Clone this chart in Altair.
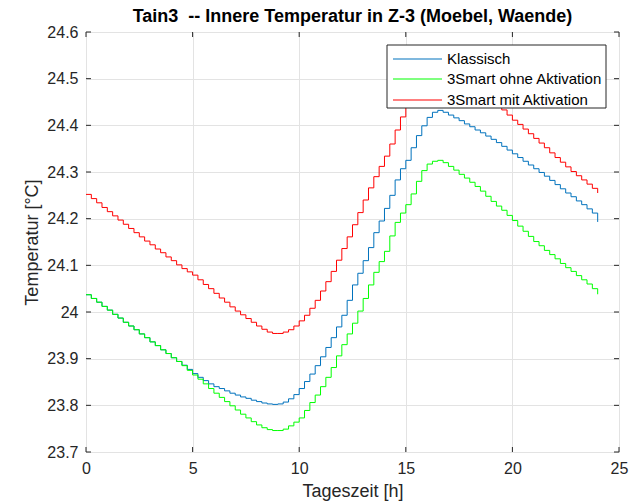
import altair as alt
import pandas as pd

FONT = "Liberation Sans"

series_names = ["Klassisch", "3Smart ohne Aktivation", "3Smart mit Aktivation"]
series_colors = ["#0072BD", "#00FF00", "#FF0000"]

x_ticks = [0, 5, 10, 15, 20, 25]
y_ticks = [23.7, 23.8, 23.9, 24.0, 24.1, 24.2, 24.3, 24.4, 24.5, 24.6]

# time of day in hours, 15-minute steps
hours = [i / 4 for i in range(97)]

klassisch = [
    24.037, 24.029, 24.021, 24.012,
    24.004, 23.995, 23.987, 23.978,
    23.970, 23.962, 23.953, 23.945,
    23.936, 23.928, 23.919, 23.911,
    23.902, 23.894, 23.886, 23.877,
    23.868, 23.860, 23.853, 23.846,
    23.840, 23.836, 23.831, 23.826,
    23.822, 23.818, 23.815, 23.811,
    23.808, 23.805, 23.803, 23.802,
    23.803, 23.807, 23.814, 23.823,
    23.836, 23.851, 23.867, 23.885,
    23.904, 23.924, 23.945, 23.968,
    23.993, 24.025, 24.058, 24.083,
    24.110, 24.138, 24.170, 24.195,
    24.222, 24.250, 24.283, 24.307,
    24.325, 24.352, 24.378, 24.399,
    24.417, 24.428, 24.432, 24.428,
    24.422, 24.416, 24.410, 24.403,
    24.397, 24.390, 24.384, 24.377,
    24.370, 24.363, 24.355, 24.347,
    24.339, 24.331, 24.323, 24.315,
    24.307, 24.299, 24.291, 24.282,
    24.273, 24.264, 24.255, 24.247,
    24.238, 24.230, 24.221, 24.212,
    24.193,
]

ohne_aktivation = [
    24.037, 24.029, 24.021, 24.012,
    24.004, 23.995, 23.987, 23.978,
    23.970, 23.962, 23.953, 23.945,
    23.936, 23.928, 23.919, 23.911,
    23.902, 23.894, 23.885, 23.875,
    23.865, 23.856, 23.846, 23.836,
    23.826, 23.817, 23.808, 23.799,
    23.790, 23.781, 23.773, 23.765,
    23.758, 23.752, 23.748, 23.746,
    23.746, 23.749, 23.756, 23.764,
    23.773, 23.789, 23.806, 23.822,
    23.840, 23.860, 23.881, 23.906,
    23.930, 23.953, 23.976, 24.002,
    24.029, 24.058, 24.085, 24.108,
    24.130, 24.163, 24.192, 24.212,
    24.230, 24.253, 24.280, 24.303,
    24.317, 24.323, 24.325, 24.320,
    24.312, 24.304, 24.295, 24.287,
    24.278, 24.269, 24.259, 24.248,
    24.237, 24.227, 24.218, 24.207,
    24.196, 24.184, 24.173, 24.162,
    24.151, 24.142, 24.132, 24.123,
    24.114, 24.104, 24.095, 24.087,
    24.078, 24.069, 24.060, 24.050,
    24.038,
]

mit_aktivation = [
    24.252, 24.243, 24.234, 24.224,
    24.215, 24.206, 24.197, 24.188,
    24.179, 24.170, 24.161, 24.152,
    24.144, 24.135, 24.127, 24.118,
    24.110, 24.101, 24.093, 24.086,
    24.079, 24.069, 24.059, 24.050,
    24.040, 24.030, 24.021, 24.011,
    24.002, 23.994, 23.986, 23.978,
    23.970, 23.963, 23.957, 23.954,
    23.954, 23.957, 23.962, 23.970,
    23.981, 23.993, 24.008, 24.025,
    24.045, 24.065, 24.087, 24.111,
    24.136, 24.161, 24.187, 24.213,
    24.240, 24.266, 24.290, 24.312,
    24.334, 24.360, 24.390, 24.418,
    24.440, 24.460, 24.478, 24.492,
    24.502, 24.508, 24.510, 24.508,
    24.504, 24.499, 24.493, 24.486,
    24.479, 24.472, 24.465, 24.458,
    24.450, 24.442, 24.433, 24.422,
    24.411, 24.402, 24.392, 24.382,
    24.372, 24.362, 24.352, 24.341,
    24.331, 24.321, 24.311, 24.301,
    24.292, 24.283, 24.274, 24.265,
    24.255,
]

frames = []
for name, vals in zip(series_names, [klassisch, ohne_aktivation, mit_aktivation]):
    assert len(vals) == len(hours)
    frames.append(pd.DataFrame({"t": hours, "v": vals, "series": name}))
df = pd.concat(frames, ignore_index=True)

W, H = 533, 420
INK = "#262626"

x_scale = alt.Scale(domain=[0, 25], nice=False, zero=False)
y_scale = alt.Scale(domain=[23.7, 24.6], nice=False, zero=False)

axis_common = dict(
    labelFont=FONT, labelFontSize=16, labelColor=INK, labelFlush=False,
    titleFont=FONT, titleFontSize=18, titleColor=INK, titleFontWeight="normal",
    grid=True, gridColor="#e3e3e3", gridWidth=1,
    ticks=False, tickSize=0, domain=False,
)
x_axis = alt.Axis(values=x_ticks, title="Tageszeit [h]", labelPadding=8, titlePadding=6, **axis_common)
y_axis = alt.Axis(values=y_ticks, format=".3~g", title="Temperatur [°C]", labelPadding=8,
                  titlePadding=5, **axis_common)

lines = alt.Chart(df).mark_line(interpolate="step-after", strokeWidth=1, clip=True).encode(
    x=alt.X("t:Q", scale=x_scale, axis=x_axis),
    y=alt.Y("v:Q", scale=y_scale, axis=y_axis),
    color=alt.Color("series:N", scale=alt.Scale(domain=series_names, range=series_colors), legend=None),
)

xt = pd.DataFrame({"tick": x_ticks})
yt = pd.DataFrame({"tick": y_ticks})

bottom_ticks = alt.Chart(xt).mark_rule(color=INK, strokeWidth=1).encode(
    x=alt.X("tick:Q", scale=x_scale, axis=x_axis), y=alt.value(H), y2=alt.value(H - 5))
top_ticks = alt.Chart(xt).mark_rule(color=INK, strokeWidth=1).encode(
    x=alt.X("tick:Q", scale=x_scale, axis=x_axis), y=alt.value(0), y2=alt.value(5))
left_ticks = alt.Chart(yt).mark_rule(color=INK, strokeWidth=1).encode(
    y=alt.Y("tick:Q", scale=y_scale, axis=y_axis), x=alt.value(0), x2=alt.value(5))
right_ticks = alt.Chart(yt).mark_rule(color=INK, strokeWidth=1).encode(
    y=alt.Y("tick:Q", scale=y_scale, axis=y_axis), x=alt.value(W), x2=alt.value(W - 5))

# legend (drawn manually, MATLAB style box)
LX0, LX1, LY0, LY1 = 301, 520, 13, 76
row_y = [27, 47, 68]
legend_box = alt.Chart(pd.DataFrame({"a": [0]})).mark_rect(
    fill="white", stroke=INK, strokeWidth=1).encode(
    x=alt.value(LX0), x2=alt.value(LX1), y=alt.value(LY0), y2=alt.value(LY1))
legend_layers = [legend_box]
for name, col, ry in zip(series_names, series_colors, row_y):
    d = pd.DataFrame({"label": [name]})
    legend_layers.append(alt.Chart(d).mark_rule(color=col, strokeWidth=1.2).encode(
        x=alt.value(307), x2=alt.value(356), y=alt.value(ry), y2=alt.value(ry)))
    legend_layers.append(alt.Chart(d).mark_text(
        font=FONT, fontSize=15, color="#000000", align="left", baseline="middle").encode(
        text="label:N", x=alt.value(361), y=alt.value(ry)))

chart = alt.layer(lines, bottom_ticks, top_ticks, left_ticks, right_ticks, *legend_layers).properties(
    width=W, height=H,
    autosize="none",
    padding={"left": 86, "top": 32, "right": 18, "bottom": 52},
    title=alt.Title("Tain3 \u00a0-- Innere Temperatur in Z-3 (Moebel, Waende)", font=FONT, fontSize=18,
                    fontWeight="bold", color="#000000", anchor="middle", frame="group", offset=-2),
).configure_view(stroke=INK, strokeWidth=1).configure(background="white")

chart.save("out.html", embed_options={"renderer": "svg", "actions": False})
